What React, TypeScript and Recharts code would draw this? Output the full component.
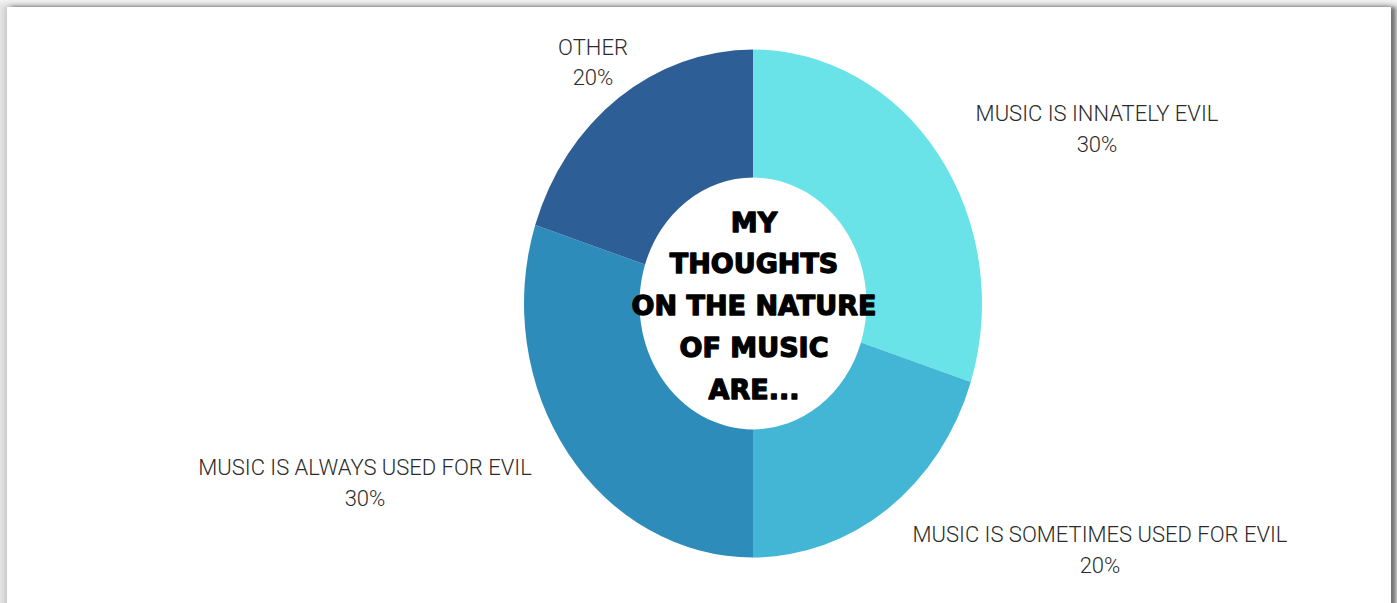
import React from "react";
import { PieChart, Pie, Cell, Label } from "recharts";

const categories = [
  "MUSIC IS INNATELY EVIL",
  "MUSIC IS SOMETIMES USED FOR EVIL",
  "MUSIC IS ALWAYS USED FOR EVIL",
  "OTHER",
];
const shares = [30, 20, 30, 20];
const percentLabels = ["30%", "20%", "30%", "20%"];
const sliceColors = ["#69E3E8", "#43B5D5", "#2E8CBA", "#2D5E96"];
const centerLines = ["MY", "THOUGHTS", "ON THE NATURE", "OF MUSIC", "ARE..."];

const data = categories.map((name, i) => ({ name, value: shares[i], pct: percentLabels[i] }));

const W = 1397;
const H = 603;
const CX = 753;
const CY = 303.5;
const R_OUT = 229;
const R_IN = 113.5;
const STRETCH = 254 / 229;

// label layout (line-1 baseline, relative to pie centre)
const labelLayout = [
  { dx: 344, dy: -182.5 },
  { dx: 347, dy: 238.5 },
  { dx: -388, dy: 171.5 },
  { dx: -160, dy: -249 },
];

const LABEL_FONT = "Roboto, 'Noto Sans', sans-serif";

const renderLabel = (props: any) => {
  const { index, cx, cy } = props;
  const p = labelLayout[index];
  const x = cx + p.dx;
  const y = cy + p.dy;
  return (
    <g key={`lbl-${index}`}>
      <text x={x} y={y} textAnchor="middle" fill="#2b2b2b" fontFamily={LABEL_FONT} fontWeight={300} fontSize={22}>
        {data[index].name}
      </text>
      <text x={x} y={y + 30.5} textAnchor="middle" fill="#2b2b2b" fontFamily={LABEL_FONT} fontWeight={300} fontSize={22}>
        {data[index].pct}
      </text>
    </g>
  );
};

const CenterText = (props: any) => {
  const vb = props.viewBox || {};
  const cx = vb.cx ?? CX;
  const cy = vb.cy ?? CY;
  return (
    <g>
      {centerLines.map((t, i) => (
        <text
          key={t}
          x={cx + 1}
          y={cy - 72 + i * 41.8}
          textAnchor="middle"
          fill="#000"
          stroke="#000"
          strokeWidth={1.3}
          strokeLinejoin="round"
          fontFamily="'DejaVu Sans', sans-serif"
          fontWeight={700}
          fontSize={27}
        >
          {t}
        </text>
      ))}
    </g>
  );
};

export default function App() {
  return (
    <div
      style={{
        position: "absolute",
        left: 0,
        top: 0,
        width: W,
        height: H,
        overflow: "hidden",
        background: "linear-gradient(to bottom, #f2f2f2, #e4e4e4 7px, #e4e4e4)",
      }}
    >
      <style>{`
        .stretch-pie .recharts-sector {
          transform-box: view-box;
          transform-origin: ${CX}px ${CY}px;
          transform: scaleY(${STRETCH});
        }
      `}</style>
      <div
        style={{
          position: "absolute",
          left: 7,
          top: 7,
          width: 1384,
          height: 610,
          background: "#fff",
          boxShadow: "5px 0 4px rgba(0,0,0,0.45), 0 -2px 6px rgba(0,0,0,0.12), -2px 0 6px rgba(0,0,0,0.08)",
        }}
      />
      <div style={{ position: "absolute", left: 0, top: 0 }}>
        <PieChart width={W} height={H} margin={{ top: 0, right: 0, bottom: 0, left: 0 }}>
          <Pie
            className="stretch-pie"
            data={data}
            dataKey="value"
            nameKey="name"
            cx={CX}
            cy={CY}
            innerRadius={R_IN}
            outerRadius={R_OUT}
            startAngle={90}
            endAngle={-270}
            stroke="none"
            label={renderLabel}
            labelLine={false}
            isAnimationActive={false}
          >
            {data.map((d, i) => (
              <Cell key={d.name} fill={sliceColors[i]} />
            ))}
            <Label position="center" content={<CenterText />} />
          </Pie>
        </PieChart>
      </div>
    </div>
  );
}
